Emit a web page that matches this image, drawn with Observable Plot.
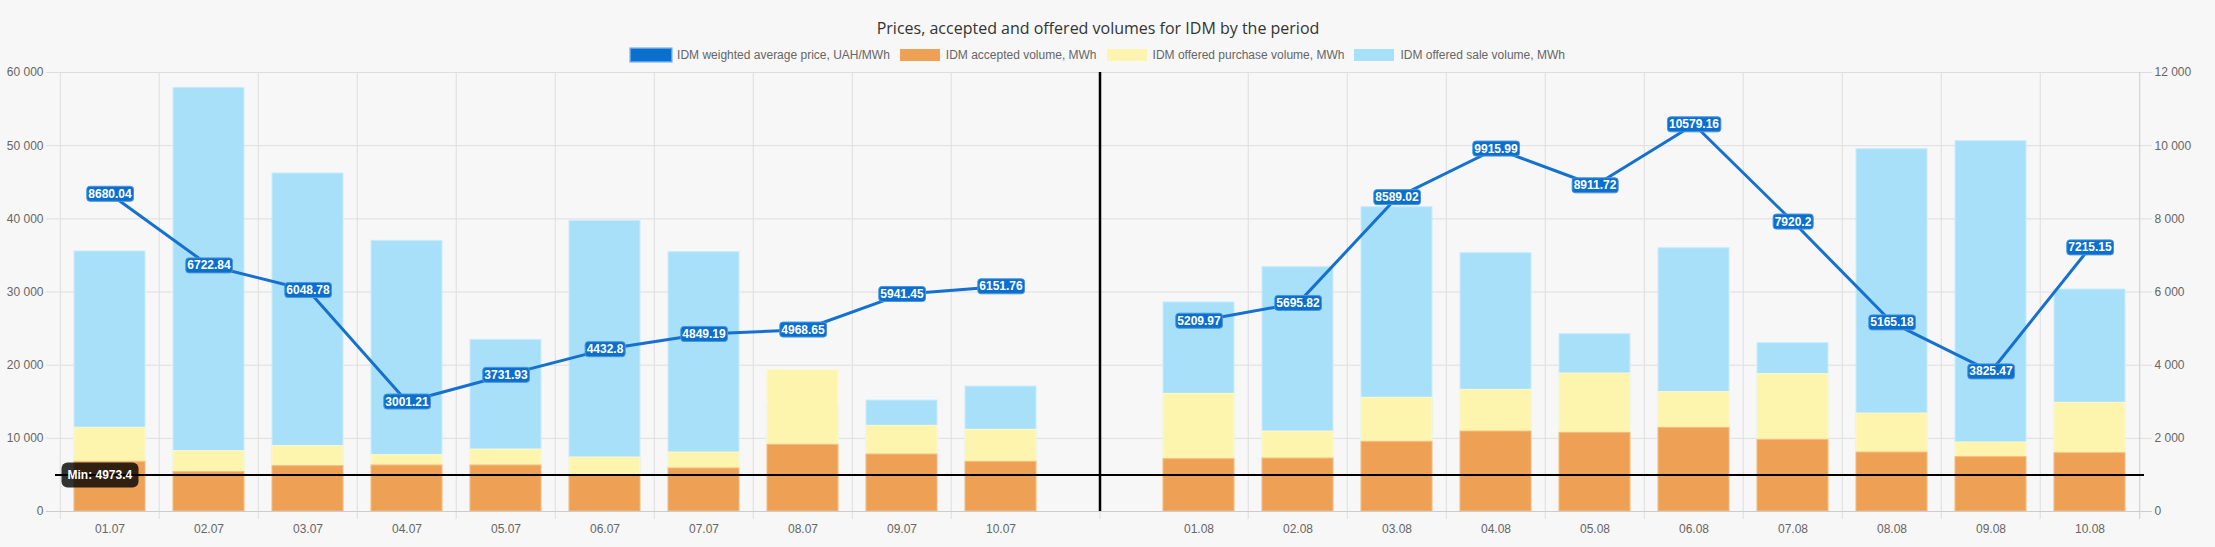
<!DOCTYPE html>
<html>
<head>
<meta charset="utf-8">
<script src="https://cdn.jsdelivr.net/npm/d3@7"></script>
<script src="https://cdn.jsdelivr.net/npm/@observablehq/plot@0.6"></script>
<style>
  html, body { margin: 0; padding: 0; background: #f7f7f7; }
  #header { position: relative; width: 2196px; height: 62px; }
  #title { position: absolute; left: 0; right: 0; top: 17px; line-height: 22px; text-align: center;
           font-family: "Open Sans", "Noto Sans", sans-serif; font-size: 16px; color: #333; }
  #legend { position: absolute; left: 0; right: 0; top: 48px; height: 14px; display: flex; justify-content: center;
            gap: 10px; font-family: "Liberation Sans", Arial, sans-serif; font-size: 12px; color: #666; }
  .item { display: flex; align-items: center; gap: 6px; line-height: 14px; }
  .box { width: 40px; height: 12px; display: inline-block; }
</style>
</head>
<body>
<div id="header">
  <div id="title">Prices, accepted and offered volumes for IDM by the period</div>
  <div id="legend"></div>
</div>
<div id="chart"></div>
<script>
// ---- data ----
const julyDates = ["01.07","02.07","03.07","04.07","05.07","06.07","07.07","08.07","09.07","10.07"];
const augDates  = ["01.08","02.08","03.08","04.08","05.08","06.08","07.08","08.08","09.08","10.08"];
const SEP = " ";

const julyPrice = [8680.04, 6722.84, 6048.78, 3001.21, 3731.93, 4432.8, 4849.19, 4968.65, 5941.45, 6151.76];
const augPrice  = [5209.97, 5695.82, 8589.02, 9915.99, 8911.72, 10579.16, 7920.2, 5165.18, 3825.47, 7215.15];

const julyAccepted = [6790, 5380, 6200, 6290, 6290, 4973.4, 5880, 9110, 7790, 6790];
const augAccepted  = [7150, 7240, 9520, 10930, 10750, 11430, 9800, 8060, 7430, 7970];

const julyPurchase = [11440, 8250, 8930, 7700, 8470, 7380, 8060, 19320, 11710, 11160];
const augPurchase  = [16080, 10930, 15540, 16630, 18860, 16310, 18770, 13390, 9430, 14850];

const julySale = [35540, 57900, 46200, 36990, 23460, 39730, 35440, 14720, 15170, 17080];
const augSale  = [28570, 33390, 41590, 35310, 24240, 35990, 23010, 49520, 50620, 30340];

const minAccepted = 4973.4;

const leftTicks  = [0, 10000, 20000, 30000, 40000, 50000, 60000];
const rightTicks = [0, 2000, 4000, 6000, 8000, 10000, 12000];

const seriesNames = [
  "IDM weighted average price, UAH/MWh",
  "IDM accepted volume, MWh",
  "IDM offered purchase volume, MWh",
  "IDM offered sale volume, MWh"
];
const colors = {
  price: "#0b6fce", priceLine: "#1570d0",
  accepted: "#eea054", acceptedStroke: "#f4bd86",
  purchase: "#fdf5ae", purchaseStroke: "#fef9d0",
  sale: "#a8e0fa", saleStroke: "#c9ecfc"
};

// ---- table ----
const rows = [];
julyDates.forEach((d, i) => rows.push({date: d, price: julyPrice[i], accepted: julyAccepted[i], purchase: julyPurchase[i], sale: julySale[i]}));
rows.push({date: SEP, price: null, accepted: null, purchase: null, sale: null});
augDates.forEach((d, i) => rows.push({date: d, price: augPrice[i], accepted: augAccepted[i], purchase: augPurchase[i], sale: augSale[i]}));
const domain = rows.map(r => r.date);
const barRows = rows.filter(r => r.date !== SEP);

// ---- legend ----
const legendColors = [colors.price, colors.accepted, colors.purchase, colors.sale];
const legend = document.getElementById("legend");
seriesNames.forEach((name, i) => {
  const it = document.createElement("div"); it.className = "item";
  const b = document.createElement("span"); b.className = "box"; b.style.background = legendColors[i];
  if (i === 0) b.style.boxShadow = "0 0 0 1.5px #5aa2e8";
  const t = document.createElement("span"); t.textContent = name;
  it.appendChild(b); it.appendChild(t); legend.appendChild(it);
});

// ---- chart ----
const W = 2215, H = 485, mL = 55, mR = 71, mT = 10, mB = 36;
const step = (W - mL - mR) / domain.length;
const fmt = d3.formatLocale({decimal: ".", thousands: " ", grouping: [3], currency: ["", ""]}).format(",");
const gridKeys = domain.filter(d => d !== SEP && d !== augDates[0]);

const chart = Plot.plot({
  width: W, height: H, marginTop: mT, marginBottom: mB, marginLeft: mL, marginRight: mR,
  style: {background: "transparent", fontFamily: "'Liberation Sans', Arial, sans-serif", fontSize: "12px", color: "#666", overflow: "visible"},
  x: {domain, paddingInner: 0.286, paddingOuter: 0.143},
  y: {domain: [0, 60000]},
  marks: [
    Plot.ruleY(leftTicks.slice(1), {stroke: "#dedede", insetLeft: -9, insetRight: -8}),
    Plot.ruleX(gridKeys, {x: d => d, dx: -step / 2, stroke: "#dedede", insetBottom: -8}),
    Plot.ruleX([SEP], {x: d => d, stroke: "#dedede", insetBottom: -8}),
    Plot.ruleX([domain[domain.length - 1]], {x: d => d, dx: step / 2, stroke: "#cccccc", insetBottom: -8}),
    Plot.barY(barRows, {x: "date", y1: 0, y2: "sale", fill: colors.sale, stroke: colors.saleStroke, strokeWidth: 1}),
    Plot.barY(barRows, {x: "date", y1: 0, y2: "purchase", fill: colors.purchase, stroke: colors.purchaseStroke, strokeWidth: 1}),
    Plot.barY(barRows, {x: "date", y1: 0, y2: "accepted", fill: colors.accepted, stroke: colors.acceptedStroke, strokeWidth: 1}),
    Plot.ruleY([0], {stroke: "#cccccc", insetLeft: -9, insetRight: -8}),
    Plot.ruleY([minAccepted], {y: d => d, stroke: "#000", strokeWidth: 2}),
    Plot.ruleX([SEP], {x: d => d, stroke: "#000", strokeWidth: 2.5}),
    Plot.line(rows, {x: "date", y: d => d.price == null ? NaN : d.price * 5, stroke: colors.priceLine, strokeWidth: 3}),
    Plot.text(barRows, {x: "date", y: d => d.price * 5, text: d => String(d.price), fill: "white",
      fontWeight: "bold", fontSize: 12, ariaDescription: "price-labels"}),
    Plot.text([minAccepted], {frameAnchor: "left", y: d => d, text: d => "Min: " + d, textAnchor: "start", dx: 12,
      fill: "white", fontWeight: "bold", fontSize: 12, ariaDescription: "min-label"}),
    Plot.axisY(leftTicks, {anchor: "left", tickSize: 0, tickPadding: 12, tickFormat: fmt, fill: "#666", label: null}),
    Plot.axisY(rightTicks.map(v => v * 5), {anchor: "right", tickSize: 0, tickPadding: 10, tickFormat: d => fmt(d / 5), fill: "#666", label: null}),
    Plot.axisX({tickSize: 0, tickPadding: 13, tickFormat: d => d === SEP ? "" : d, fill: "#666", label: null})
  ]
});
document.getElementById("chart").appendChild(chart);

// label backgrounds sized to the rendered text
function addBoxes(desc, padX, boxH, rx, fill, stroke) {
  const groups = Array.from(chart.querySelectorAll("g")).filter(g => g.getAttribute("aria-description") === desc);
  groups.forEach(g => g.querySelectorAll("text").forEach(t => {
    const bb = t.getBBox();
    const cy = bb.y + bb.height / 2;
    const r = document.createElementNS("http://www.w3.org/2000/svg", "rect");
    r.setAttribute("x", bb.x - padX); r.setAttribute("y", cy - boxH / 2);
    r.setAttribute("width", bb.width + 2 * padX); r.setAttribute("height", boxH);
    r.setAttribute("rx", rx); r.setAttribute("fill", fill);
    if (stroke) { r.setAttribute("stroke", stroke); r.setAttribute("stroke-width", 1); }
    const tr = t.getAttribute("transform"); if (tr) r.setAttribute("transform", tr);
    t.parentNode.insertBefore(r, t);
  }));
}
addBoxes("price-labels", 1.5, 15, 3, colors.price, "#4a95e0");
addBoxes("min-label", 6, 25, 6, "rgba(0,0,0,0.8)", null);
</script>
</body>
</html>
